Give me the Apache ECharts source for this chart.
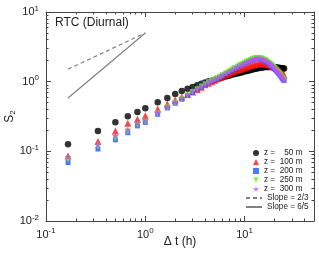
<!DOCTYPE html>
<html>
<head>
<meta charset="utf-8">
<script src="https://cdn.jsdelivr.net/npm/echarts@6/dist/echarts.min.js"></script>
<style>html,body{margin:0;padding:0;background:#fff;}#c{width:319px;height:254px;}</style>
</head>
<body>
<div id="c"></div>
<script>
// time lags (h)
const lags = [0.1667, 0.3333, 0.5, 0.6667, 0.8333, 1, 1.3333, 1.6667, 2, 2.3333, 2.6667, 3, 3.3333, 3.6667, 4, 4.3333, 4.6667, 5, 5.3333, 5.6667, 6,
  6.5, 7, 7.5, 8, 8.5, 9, 9.5, 10, 10.5, 11, 11.5, 12, 12.5, 13, 13.5, 14, 14.5, 15, 15.5, 16, 16.5, 17, 17.5, 18, 18.5, 19, 19.5, 20, 20.5, 21, 21.5, 22, 22.5, 23, 23.5, 24, 24.5, 25];
// S2 values per depth
const z50 = [0.126, 0.196, 0.261, 0.318, 0.367, 0.415, 0.506, 0.583, 0.667, 0.736, 0.794, 0.840, 0.888, 0.93, 0.975, 1.01, 1.035, 1.057, 1.09, 1.12, 1.148,
  1.185, 1.22, 1.255, 1.289, 1.315, 1.34, 1.37, 1.40, 1.42, 1.445, 1.47, 1.496, 1.515, 1.535, 1.555, 1.573, 1.585, 1.60, 1.61, 1.62, 1.625, 1.63, 1.63, 1.63, 1.625, 1.62, 1.615, 1.61, 1.60, 1.595, 1.59, 1.58, 1.575, 1.565, 1.56, 1.555, 1.55, 1.545];
const z100 = [0.086, 0.138, 0.196, 0.253, 0.289, 0.325, 0.406, 0.479, 0.546, 0.603, 0.655, 0.711, 0.77, 0.83, 0.90, 0.95, 1.00, 1.05, 1.10, 1.15, 1.20,
  1.26, 1.31, 1.37, 1.42, 1.46, 1.50, 1.55, 1.59, 1.62, 1.66, 1.70, 1.73, 1.76, 1.78, 1.80, 1.81, 1.82, 1.82, 1.82, 1.81, 1.80, 1.78, 1.76, 1.74, 1.71, 1.68, 1.65, 1.61, 1.58, 1.54, 1.50, 1.46, 1.42, 1.38, 1.34, 1.31, 1.28, 1.25];
const z200 = [0.069, 0.108, 0.146, 0.185, 0.232, 0.26, 0.34, 0.42, 0.49, 0.56, 0.63, 0.70, 0.77, 0.84, 0.91, 0.97, 1.02, 1.07, 1.12, 1.17, 1.23,
  1.31, 1.39, 1.47, 1.55, 1.63, 1.70, 1.77, 1.84, 1.90, 1.96, 2.01, 2.06, 2.10, 2.13, 2.14, 2.14, 2.12, 2.09, 2.05, 2.01, 1.96, 1.91, 1.85, 1.79, 1.73, 1.67, 1.61, 1.55, 1.49, 1.43, 1.38, 1.32, 1.27, 1.22, 1.17, 1.12, 1.08, 1.04];
const z250 = [0.076, 0.117, 0.154, 0.193, 0.24, 0.268, 0.35, 0.43, 0.50, 0.57, 0.64, 0.71, 0.78, 0.85, 0.92, 0.98, 1.03, 1.08, 1.13, 1.18, 1.24,
  1.32, 1.41, 1.49, 1.57, 1.65, 1.73, 1.80, 1.87, 1.94, 2.00, 2.06, 2.11, 2.15, 2.18, 2.19, 2.18, 2.16, 2.13, 2.09, 2.04, 1.99, 1.93, 1.87, 1.81, 1.75, 1.69, 1.63, 1.57, 1.51, 1.45, 1.40, 1.34, 1.29, 1.24, 1.19, 1.14, 1.10, 1.06];
const z300 = [0.083, 0.126, 0.168, 0.206, 0.255, 0.28, 0.36, 0.44, 0.51, 0.58, 0.65, 0.72, 0.79, 0.86, 0.93, 0.98, 1.03, 1.08, 1.13, 1.18, 1.24,
  1.32, 1.40, 1.48, 1.56, 1.64, 1.71, 1.78, 1.85, 1.91, 1.97, 2.03, 2.08, 2.12, 2.15, 2.17, 2.16, 2.14, 2.11, 2.07, 2.02, 1.97, 1.92, 1.86, 1.80, 1.74, 1.68, 1.62, 1.56, 1.50, 1.44, 1.39, 1.33, 1.28, 1.23, 1.18, 1.13, 1.09, 1.05];
// reference slope lines [lag, S2]
const slope23 = [[0.1667, 1.51], [1, 5]];
const slope65 = [[0.1667, 0.583], [1, 5]];
// ticks
const xRange = [0.1, 50];
const yRange = [0.01, 10];
const majorX = [0.1, 1, 10];
const minorX = [0.2, 0.3, 0.4, 0.5, 0.6, 0.7, 0.8, 0.9, 2, 3, 4, 5, 6, 7, 8, 9, 20, 30, 40];
const majorY = [0.01, 0.1, 1, 10];
const minorY = [0.02, 0.03, 0.04, 0.05, 0.06, 0.07, 0.08, 0.09, 0.2, 0.3, 0.4, 0.5, 0.6, 0.7, 0.8, 0.9, 2, 3, 4, 5, 6, 7, 8, 9];
const names = ['z =    50 m', 'z =  100 m', 'z =  200 m', 'z =  250 m', 'z =  300 m', 'Slope = 2/3', 'Slope = 6/5'];

const FONT = 'Liberation Sans, Arial, sans-serif';
const AX = '#444';
const TXT = '#222';
const star = 'path://M50,0 L61,35 L98,35 L68,57 L79,91 L50,70 L21,91 L32,57 L2,35 L39,35 Z';
const downTri = 'path://M0,0 L10,0 L5,9 Z';

function powLabel(v) {
  const e = Math.log10(v);
  if (Math.abs(e - Math.round(e)) > 1e-6) return '';
  return '{b|10}{s|' + Math.round(e) + '}';
}
const labRich = {
  b: { fontSize: 11, fontFamily: FONT, color: TXT },
  s: { fontSize: 8, fontFamily: FONT, color: TXT, padding: [0, 0, 7, 0] }
};
const lg = v => Math.log10(v);

// main log axes (carry the data) + decorative tick axes in log10 space
function mainX() {
  return {
    type: 'log', logBase: 10, min: xRange[0], max: xRange[1], position: 'bottom',
    axisLine: { show: true, onZero: false, lineStyle: { color: AX, width: 1 } },
    axisTick: { show: true, inside: true, length: 5, lineStyle: { color: AX, width: 1 } },
    axisLabel: { show: true, formatter: powLabel, rich: labRich, margin: 6 },
    splitLine: { show: false }, minorTick: { show: false },
    name: 'Δ t (h)', nameLocation: 'middle', nameGap: 15, nameMoveOverlap: false,
    nameTextStyle: { fontSize: 12, fontFamily: FONT, color: TXT }
  };
}
function mainY() {
  return {
    type: 'log', logBase: 10, min: yRange[0], max: yRange[1], position: 'left',
    axisLine: { show: true, onZero: false, lineStyle: { color: AX, width: 1 } },
    axisTick: { show: true, inside: true, length: 5, lineStyle: { color: AX, width: 1 } },
    axisLabel: { show: true, formatter: powLabel, rich: labRich, margin: 7 },
    splitLine: { show: false }, minorTick: { show: false },
    name: '{a|S}{b|2}', nameLocation: 'middle', nameGap: 29, nameRotate: 90, nameMoveOverlap: false,
    nameTextStyle: { rich: { a: { fontSize: 12, fontFamily: FONT, color: TXT }, b: { fontSize: 8, fontFamily: FONT, color: TXT, padding: [6, 0, 0, 0] } } }
  };
}
function decor(pos, range, vals, len, line) {
  return {
    type: 'value', min: lg(range[0]), max: lg(range[1]), position: pos,
    axisLine: { show: line, onZero: false, lineStyle: { color: AX, width: 1 } },
    axisTick: { show: true, inside: true, length: len, customValues: vals.map(lg), lineStyle: { color: AX, width: 1 } },
    axisLabel: { show: false }, splitLine: { show: false }, minorTick: { show: false }
  };
}

function sc(name, vals, symbol, size, color) {
  return {
    name: name, type: 'scatter', xAxisIndex: 0, yAxisIndex: 0,
    data: lags.map((t, i) => [t, vals[i]]),
    symbol: symbol, symbolSize: size,
    itemStyle: { color: color }, animation: false
  };
}

const chart = echarts.init(document.getElementById('c'), null, { renderer: 'canvas' });
chart.setOption({
  animation: false,
  backgroundColor: '#fff',
  textStyle: { fontFamily: FONT },
  title: { text: 'RTC (Diurnal)', left: 55, top: 17, padding: 0, textStyle: { fontSize: 12, fontWeight: 'normal', fontFamily: FONT, color: TXT } },
  grid: { left: 46, right: 5, top: 12, bottom: 33, outerBoundsMode: 'none', containLabel: false },
  xAxis: [mainX(), decor('bottom', xRange, minorX, 2.5, false), decor('top', xRange, majorX, 5, true), decor('top', xRange, minorX, 2.5, false)],
  yAxis: [mainY(), decor('left', yRange, minorY, 2.5, false), decor('right', yRange, majorY, 5, true), decor('right', yRange, minorY, 2.5, false)],
  legend: [{
    orient: 'vertical', left: 253, top: 148.5, itemWidth: 6, itemHeight: 6, itemGap: 0,
    data: names.slice(0, 5), textStyle: { fontSize: 8.2, lineHeight: 9, fontFamily: FONT, color: TXT },
    selectedMode: false, padding: 0
  }, {
    orient: 'vertical', left: 245, top: 193.5, itemWidth: 16, itemHeight: 6, itemGap: 0,
    data: names.slice(5).map(n => ({ name: n, itemStyle: { opacity: 0 } })),
    textStyle: { fontSize: 8.2, lineHeight: 9, fontFamily: FONT, color: TXT },
    selectedMode: false, padding: 0
  }],
  series: [
    sc(names[0], z50, 'circle', 6.5, '#000000'),
    sc(names[1], z100, 'triangle', 7, '#ff1414'),
    sc(names[2], z200, 'rect', 5, '#2352ff'),
    sc(names[3], z250, downTri, 6, '#6ef51c'),
    sc(names[4], z300, star, 7, '#b452f5'),
    { name: names[5], type: 'line', data: slope23, symbol: 'none', lineStyle: { color: '#808080', width: 1.2, type: [4, 3] }, itemStyle: { color: '#808080' }, animation: false },
    { name: names[6], type: 'line', data: slope65, symbol: 'none', lineStyle: { color: '#808080', width: 1.2 }, itemStyle: { color: '#808080' }, animation: false }
  ]
});
</script>
</body>
</html>
